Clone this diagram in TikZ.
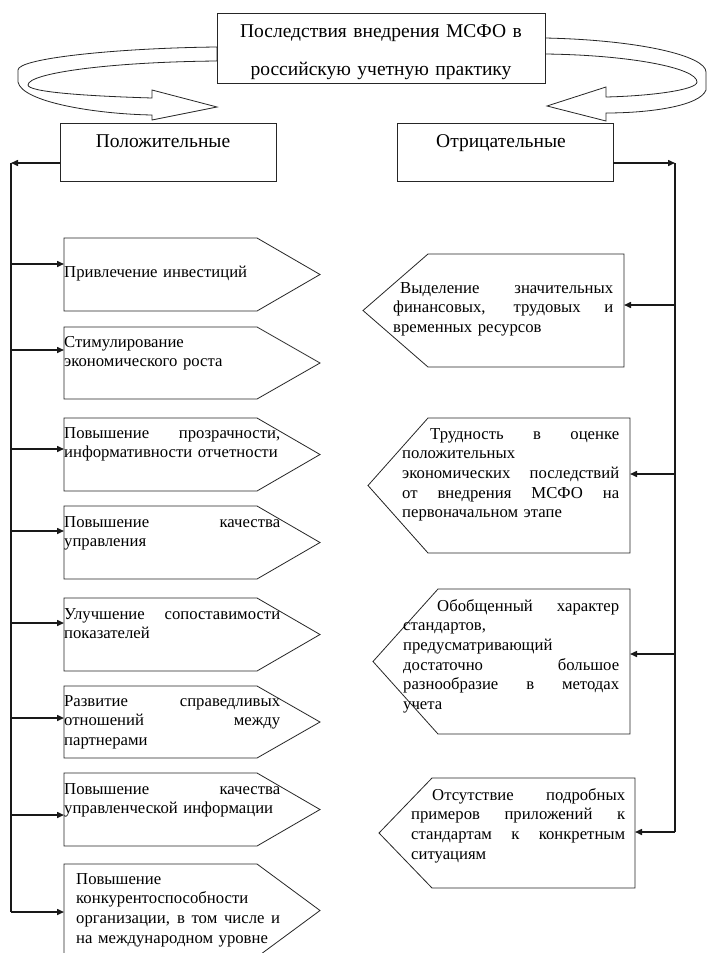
\documentclass[tikz,border=0pt]{standalone}
\usepackage{fontspec}
\setmainfont{Liberation Serif}
\usetikzlibrary{arrows.meta}
\newcommand\btfont{\fontsize{16.7}{19.7}\selectfont}
\newcommand\hdfont{\fontsize{19.5}{38}\selectfont}
\newcommand\jl[2]{\makebox[#1][s]{\spaceskip=0.3333em plus 1fil\relax\xspaceskip=\spaceskip #2}}
\begin{document}
\begin{tikzpicture}[x=1pt,y=-1pt,
  boxln/.style={draw=black!85, line width=0.8pt, fill=white},
  hdr/.style={draw=black!85, line width=0.8pt, fill=white, inner sep=0pt},
  conn/.style={line width=1.5pt, draw=black!90},
  tipr/.style={-{Triangle[length=7pt,width=6pt]}},
  btxt/.style={font=\btfont, inner sep=0pt, align=left, anchor=base west},
  htxt/.style={font=\hdfont, inner sep=0pt, anchor=base}]
\fill[white] (0,0) rectangle (707,953);
\useasboundingbox (0,0) rectangle (707,953);

% ---- ribbons ----
\draw[boxln] (217,47) .. controls (120,48) and (18,58) .. (18,70) -- (18,82)
  .. controls (22,102) and (95,114) .. (152,115) -- (152,120) -- (217,107) -- (152,90) -- (152,98)
  .. controls (85,96) and (28,92) .. (28,85) .. controls (28,73) and (110,62) .. (217,61) -- cycle;
\draw[boxln] (545,38) .. controls (640,40) and (706,56) .. (706,72) -- (706,90)
  .. controls (700,106) and (650,113) .. (606,113) -- (606,121) -- (547,106) -- (606,87) -- (606,97)
  .. controls (650,96) and (697,90) .. (697,82) .. controls (697,68) and (630,55) .. (545,54) -- cycle;

% ---- header boxes ----
\node[hdr, minimum width=328pt, minimum height=70pt] (top) at (381,48) {};
\node[htxt, text width=328pt, align=center] (toptext) at (381,37)
  {Последствия внедрения МСФО в\\российскую учетную практику};
\node[hdr, minimum width=216pt, minimum height=58pt] (pos) at (168,152) {};
\node[htxt] (postext) at (163,147) {Положительные};
\node[hdr, minimum width=216pt, minimum height=58pt] (neg) at (505,152) {};
\node[htxt] (negtext) at (501,147) {Отрицательные};

% ---- left pentagons ----
\foreach \t/\b in {238/311, 327/399, 418/491, 506/579, 598/671, 686/758, 773/846, 864/957}{
  \draw[boxln] (64,\t) -- (257,\t) -- (320,{(\t+\b)/2}) -- (257,\b) -- (64,\b) -- cycle;
}
\node[btxt, text width=230pt] (l1) at (64,277) {Привлечение инвестиций};
\node[btxt, text width=230pt] (l2) at (64,347) {Стимулирование\\экономического роста};
\node[btxt, text width=230pt] (l3) at (64,438) {\jl{216pt}{Повышение прозрачности,}\\информативности отчетности};
\node[btxt, text width=230pt] (l4) at (64,527) {\jl{216pt}{Повышение качества}\\управления};
\node[btxt, text width=230pt] (l5) at (64,619) {\jl{216pt}{Улучшение сопоставимости}\\показателей};
\node[btxt, text width=230pt] (l6) at (64,706) {\jl{216pt}{Развитие справедливых}\\\jl{216pt}{отношений между}\\партнерами};
\node[btxt, text width=230pt] (l7) at (64,794) {\jl{216pt}{Повышение качества}\\управленческой информации};
\node[btxt, text width=220pt] (l8) at (76,884) {Повышение\\конкурентоспособности\\\jl{204pt}{организации, в том числе и}\\на международном уровне};

% ---- right pentagons ----
\draw[boxln] (428,254) -- (624,254) -- (624,367) -- (428,367) -- (363,310.5) -- cycle;
\draw[boxln] (428,418) -- (630,418) -- (630,553) -- (428,553) -- (368,485.5) -- cycle;
\draw[boxln] (438,589) -- (630,589) -- (630,734) -- (438,734) -- (373,661.5) -- cycle;
\draw[boxln] (432,778) -- (635,778) -- (635,888) -- (432,888) -- (379,833) -- cycle;
\node[btxt, text width=230pt] (r1) at (393,293) {\jl{220pt}{\hspace{7pt}Выделение значительных}\\\jl{220pt}{финансовых, трудовых и}\\временных ресурсов};
\node[btxt, text width=230pt] (r2) at (402,439) {\jl{217pt}{\hspace{28pt}Трудность в оценке}\\положительных\\\jl{217pt}{экономических последствий}\\\jl{217pt}{от внедрения МСФО на}\\первоначальном этапе};
\node[btxt, text width=230pt] (r3) at (403,611) {\jl{216pt}{\hspace{34pt}Обобщенный характер}\\стандартов,\\предусматривающий\\\jl{216pt}{достаточно большое}\\\jl{216pt}{разнообразие в методах}\\учета};
\node[btxt, text width=230pt] (r4) at (411,800) {\jl{214pt}{\hspace{21pt}Отсутствие подробных}\\\jl{214pt}{примеров приложений к}\\\jl{214pt}{стандартам к конкретным}\\ситуациям};

% ---- connectors: left ----
\coordinate (P0) at (60,163);
\coordinate (S0) at (11,163);
\draw[conn,tipr] (P0) -- (S0);
\foreach \y [count=\i] in {264,350,449,531,623,718,815,912}{
  \coordinate (S\i) at (11,\y);
  \coordinate (L\i) at (64,\y);
  \draw[conn,tipr] (S\i) -- (L\i);
}
\draw[conn] (S0) -- (S8);

% ---- connectors: right ----
\coordinate (N0) at (613,163);
\coordinate (Q0) at (675,163);
\draw[conn,tipr] (N0) -- (Q0);
\foreach \y/\x [count=\i] in {305/624,474/630,654/630,832/635}{
  \coordinate (Q\i) at (675,\y);
  \coordinate (R\i) at (\x,\y);
  \draw[conn,tipr] (Q\i) -- (R\i);
}
\draw[conn] (Q0) -- (Q4);
\end{tikzpicture}
\end{document}
